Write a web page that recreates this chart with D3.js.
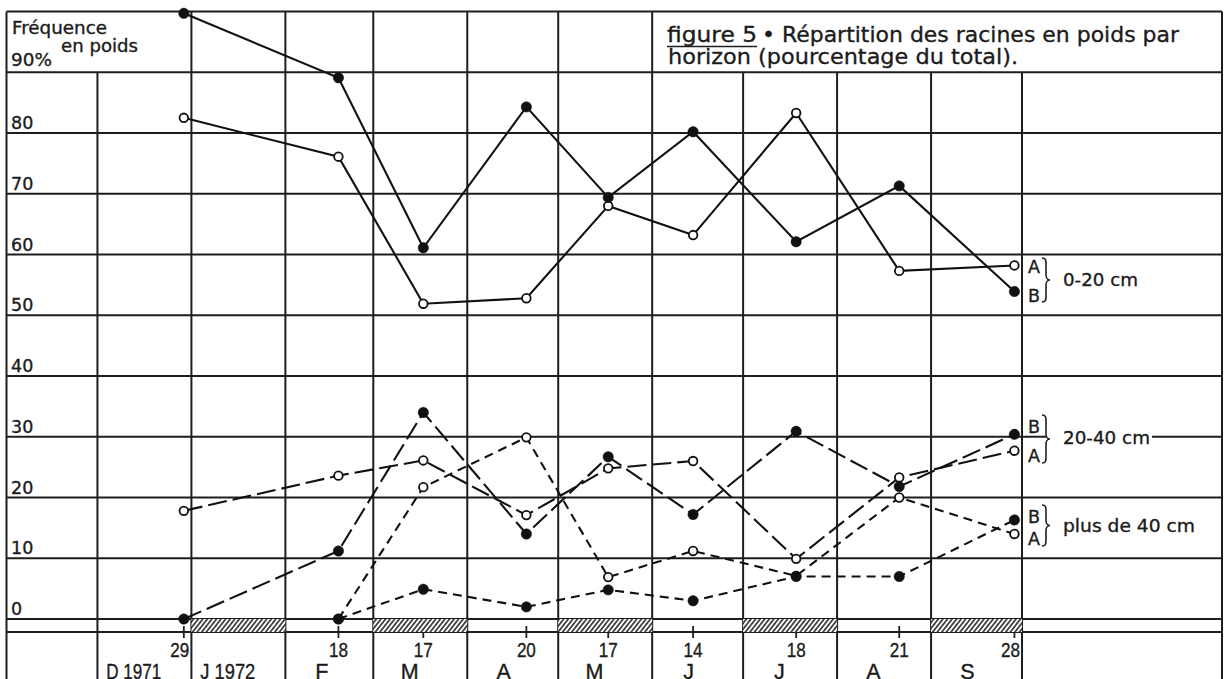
<!DOCTYPE html>
<html>
<head>
<meta charset="utf-8">
<script src="https://cdn.jsdelivr.net/npm/d3@7"></script>
<style>
  html, body { margin: 0; padding: 0; background: #fff; }
  svg { display: block; }
  text { fill: #1b1b1b; stroke: #1b1b1b; stroke-width: 0.35px; }
</style>
</head>
<body>
<svg id="chart" width="1226" height="679"></svg>
<script>
// ---- data -------------------------------------------------------------
// sampling dates (root cores)
const sampleDates = ["1971-12-29", "1972-02-18", "1972-03-17", "1972-04-20", "1972-05-17",
                     "1972-06-14", "1972-07-18", "1972-08-21", "1972-09-28"];
const dayLabels = ["29", "18", "17", "20", "17", "14", "18", "21", "28"];

// month columns, December 1971 to September 1972
const monthLabels = ["D 1971", "J 1972", "F", "M", "A", "M", "J", "J", "A", "S"];
const monthHatched = [false, true, false, true, false, true, false, true, false, true];

// y axis tick labels (%)
const yTickValues = [80, 70, 60, 50, 40, 30, 20, 10, 0];

// weight share of roots per horizon (% of total), stations A and B
const h0_20A  = [82.5, 76.1, 51.9, 52.8, 68.0, 63.2, 83.3, 57.3, 58.2];
const h0_20B  = [99.7, 89.1, 61.1, 84.3, 69.4, 80.2, 62.1, 71.3, 53.9];
const h20_40A = [17.8, 23.6, 26.1, 17.1, 24.8, 26.0, 9.9, 23.3, 27.7];
const h20_40B = [0.0, 11.2, 34.0, 14.0, 26.7, 17.2, 30.9, 21.8, 30.4];
const h40A    = [null, 0.0, 21.7, 29.9, 6.9, 11.2, 7.1, 20.0, 14.0];
const h40B    = [null, 0.0, 4.9, 2.0, 4.8, 3.0, 7.0, 7.0, 16.3];

// ---- setup ------------------------------------------------------------
const svg = d3.select("#chart");
const parse = d3.timeParse("%Y-%m-%d");
const noon = d => d3.timeHour.offset(parse(d), 12);

const x = d3.scaleTime()
  .domain([new Date(1971, 10, 1), new Date(1972, 9, 1)])
  .range([6.5, 1022]);
const y = d3.scaleLinear().domain([0, 100]).range([619, 11.5]);

const frameRight = 1222, bottom = 679;
const bandH = 13;
const ink = "#1e1e1e";

const defs = svg.append("defs");
const pat = defs.append("pattern")
  .attr("id", "hatch").attr("patternUnits", "userSpaceOnUse")
  .attr("width", 3.6).attr("height", 6)
  .attr("patternTransform", "rotate(38)");
pat.append("rect").attr("width", 3.6).attr("height", 6).attr("fill", "#fff");
pat.append("line").attr("x1", 0.9).attr("y1", 0).attr("x2", 0.9).attr("y2", 6)
  .attr("stroke", "#2a2a2a").attr("stroke-width", 1.6);

svg.append("rect").attr("width", 1226).attr("height", 679).attr("fill", "#fff");

// ---- grid -------------------------------------------------------------
const monthStarts = d3.timeMonth.range(new Date(1971, 11, 1), new Date(1972, 9, 2));
const boundaries = [new Date(1971, 10, 1), ...monthStarts];
// header boxes: axis caption (Nov–Dec) and title (Jun onwards)
const boxes = [[new Date(1971, 10, 1), new Date(1972, 0, 1)], [new Date(1972, 5, 1), null]];
const insideBox = d => boxes.some(([a, b]) => d > a && (b === null || d < b));

const grid = svg.append("g").attr("stroke", ink).attr("stroke-width", 2);

// hatched bands under the zero line
svg.append("g").selectAll("rect")
  .data(monthStarts.slice(0, -1).map((d, i) => ({ start: d, end: monthStarts[i + 1], on: monthHatched[i] }))
        .filter(d => d.on))
  .join("rect")
  .attr("x", d => x(d.start)).attr("width", d => x(d.end) - x(d.start))
  .attr("y", y(0)).attr("height", bandH)
  .attr("fill", "url(#hatch)");

grid.selectAll("line.h")
  .data(d3.range(0, 101, 10))
  .join("line").attr("class", "h")
  .attr("x1", x.range()[0]).attr("x2", frameRight)
  .attr("y1", d => y(d)).attr("y2", d => y(d));
grid.append("line")
  .attr("x1", x.range()[0]).attr("x2", frameRight)
  .attr("y1", y(0) + bandH).attr("y2", y(0) + bandH);

grid.selectAll("line.v")
  .data(boundaries)
  .join("line").attr("class", "v")
  .attr("x1", d => x(d)).attr("x2", d => x(d))
  .attr("y1", d => insideBox(d) ? y(90) : y(100)).attr("y2", bottom);
grid.append("line")
  .attr("x1", frameRight).attr("x2", frameRight)
  .attr("y1", y(100)).attr("y2", bottom);

// sampling ticks
grid.selectAll("line.t")
  .data(sampleDates)
  .join("line").attr("class", "t")
  .attr("stroke-width", 1.8)
  .attr("x1", d => x(noon(d))).attr("x2", d => x(noon(d)))
  .attr("y1", y(0) + 7).attr("y2", y(0) + 19);

// ---- axis text --------------------------------------------------------
const sans = "'DejaVu Sans', Verdana, sans-serif";
const narrow = "'Liberation Sans', Arial, sans-serif";

const cap = svg.append("g").attr("font-family", sans);
cap.append("text").attr("x", 12).attr("y", 34).attr("font-size", 18.5)
  .attr("textLength", 95).attr("lengthAdjust", "spacingAndGlyphs").text("Fréquence");
cap.append("text").attr("x", 61).attr("y", 52).attr("font-size", 18.5)
  .attr("textLength", 77).attr("lengthAdjust", "spacingAndGlyphs").text("en poids");
cap.append("text").attr("x", 11).attr("y", 66).attr("font-size", 18.5)
  .attr("textLength", 41).attr("lengthAdjust", "spacingAndGlyphs").text("90%");

cap.selectAll("text.yt")
  .data(yTickValues)
  .join("text").attr("class", "yt")
  .attr("x", 11).attr("y", d => y(d) - 4)
  .attr("font-size", 17.5)
  .text(d => d);

// title
const title = svg.append("g").attr("font-family", sans).attr("font-size", 22);
title.append("text").attr("x", 667).attr("y", 42)
  .attr("textLength", 90).attr("lengthAdjust", "spacingAndGlyphs").text("figure 5");
title.append("line").attr("x1", 667).attr("x2", 757).attr("y1", 46.5).attr("y2", 46.5)
  .attr("stroke", ink).attr("stroke-width", 1.6);
title.append("text").attr("x", 762).attr("y", 42)
  .attr("textLength", 417).attr("lengthAdjust", "spacingAndGlyphs")
  .text("• Répartition des racines en poids par");
title.append("text").attr("x", 668).attr("y", 64)
  .attr("textLength", 350).attr("lengthAdjust", "spacingAndGlyphs")
  .text("horizon (pourcentage du total).");

// day numbers of the sampling dates
svg.append("g").attr("font-family", narrow).attr("font-size", 20.5)
  .selectAll("text")
  .data(sampleDates)
  .join("text")
  .attr("x", (d, i) => x(noon(d)) + (i === 0 || i === sampleDates.length - 1 ? -4 : 0))
  .attr("y", 657)
  .attr("text-anchor", "middle")
  .attr("textLength", 19).attr("lengthAdjust", "spacingAndGlyphs")
  .text((d, i) => dayLabels[i]);

// month names
svg.append("g").attr("font-family", narrow).attr("font-size", 21.5)
  .selectAll("text")
  .data(monthStarts.slice(0, -1))
  .join("text")
  .attr("x", d => x(d3.timeDay.offset(d, 12)))
  .attr("y", 679)
  .attr("text-anchor", "middle")
  .each(function (d, i) {
    const t = d3.select(this).text(monthLabels[i]);
    if (monthLabels[i].length > 2) t.attr("textLength", 55).attr("lengthAdjust", "spacingAndGlyphs");
  });

// ---- series -----------------------------------------------------------
const series = [
  { values: h0_20B, filled: true, dash: null },
  { values: h0_20A, filled: false, dash: null },
  { values: h20_40A, filled: false, dash: "19,6" },
  { values: h20_40B, filled: true, dash: "19,6" },
  { values: h40A, filled: false, dash: "9,6" },
  { values: h40B, filled: true, dash: "9,6" }
];

const line = d3.line()
  .defined(d => d.v !== null)
  .x(d => x(d.t)).y(d => y(d.v));

const pts = s => s.values.map((v, i) => ({ t: noon(sampleDates[i]), v }));

const lines = svg.append("g").attr("fill", "none").attr("stroke", "#111").attr("stroke-width", 2.1);
series.forEach(s => {
  lines.append("path").attr("d", line(pts(s)))
    .attr("stroke-dasharray", s.dash);
});

const marks = svg.append("g");
series.filter(s => !s.filled).concat(series.filter(s => s.filled)).forEach(s => {
  marks.selectAll(null)
    .data(pts(s).filter(d => d.v !== null))
    .join("circle")
    .attr("cx", d => x(d.t)).attr("cy", d => y(d.v))
    .attr("r", s.filled ? 5.2 : 4.3)
    .attr("fill", s.filled ? "#111" : "#fff")
    .attr("stroke", "#111").attr("stroke-width", s.filled ? 0.5 : 1.8);
});

// ---- horizon key ------------------------------------------------------
const key = svg.append("g").attr("font-family", sans);
const brace = (bx, y0, y1, w) => {
  const m = (y0 + y1) / 2, c = bx + w * 0.5;
  return `M${bx},${y0} C${bx + w * 0.55},${y0} ${c},${y0 + 3} ${c},${y0 + 8} L${c},${m - 5}` +
         ` C${c},${m - 2} ${bx + w * 0.75},${m} ${bx + w},${m}` +
         ` C${bx + w * 0.75},${m} ${c},${m + 2} ${c},${m + 5} L${c},${y1 - 8}` +
         ` C${c},${y1 - 3} ${bx + w * 0.55},${y1} ${bx},${y1}`;
};
const keys = [
  { top: "A", bottom: "B", text: "0-20 cm", y0: 258, y1: 302, topY: 273, botY: 302, textY: 286 },
  { top: "B", bottom: "A", text: "20-40 cm", y0: 415, y1: 463, topY: 433, botY: 462, textY: 443.5, mask: true },
  { top: "B", bottom: "A", text: "plus de 40 cm", y0: 505, y1: 546, topY: 523, botY: 545, textY: 532 }
];
keys.forEach(k => {
  if (k.mask) {
    key.append("rect").attr("x", 1046).attr("y", k.textY - 13).attr("width", 106).attr("height", 13)
      .attr("fill", "#fff");
  }
  key.append("text").attr("x", 1028).attr("y", k.topY).attr("font-size", 17.5).text(k.top);
  key.append("text").attr("x", 1028).attr("y", k.botY).attr("font-size", 17.5).text(k.bottom);
  key.append("path").attr("d", brace(1042, k.y0, k.y1, 8))
    .attr("fill", "none").attr("stroke", ink).attr("stroke-width", 1.6);
  key.append("text").attr("x", 1063).attr("y", k.textY).attr("font-size", 18.5)
    .attr("textLength", k.text === "plus de 40 cm" ? 132 : (k.text === "20-40 cm" ? 87 : 75))
    .attr("lengthAdjust", "spacingAndGlyphs")
    .text(k.text);
});
</script>
</body>
</html>
